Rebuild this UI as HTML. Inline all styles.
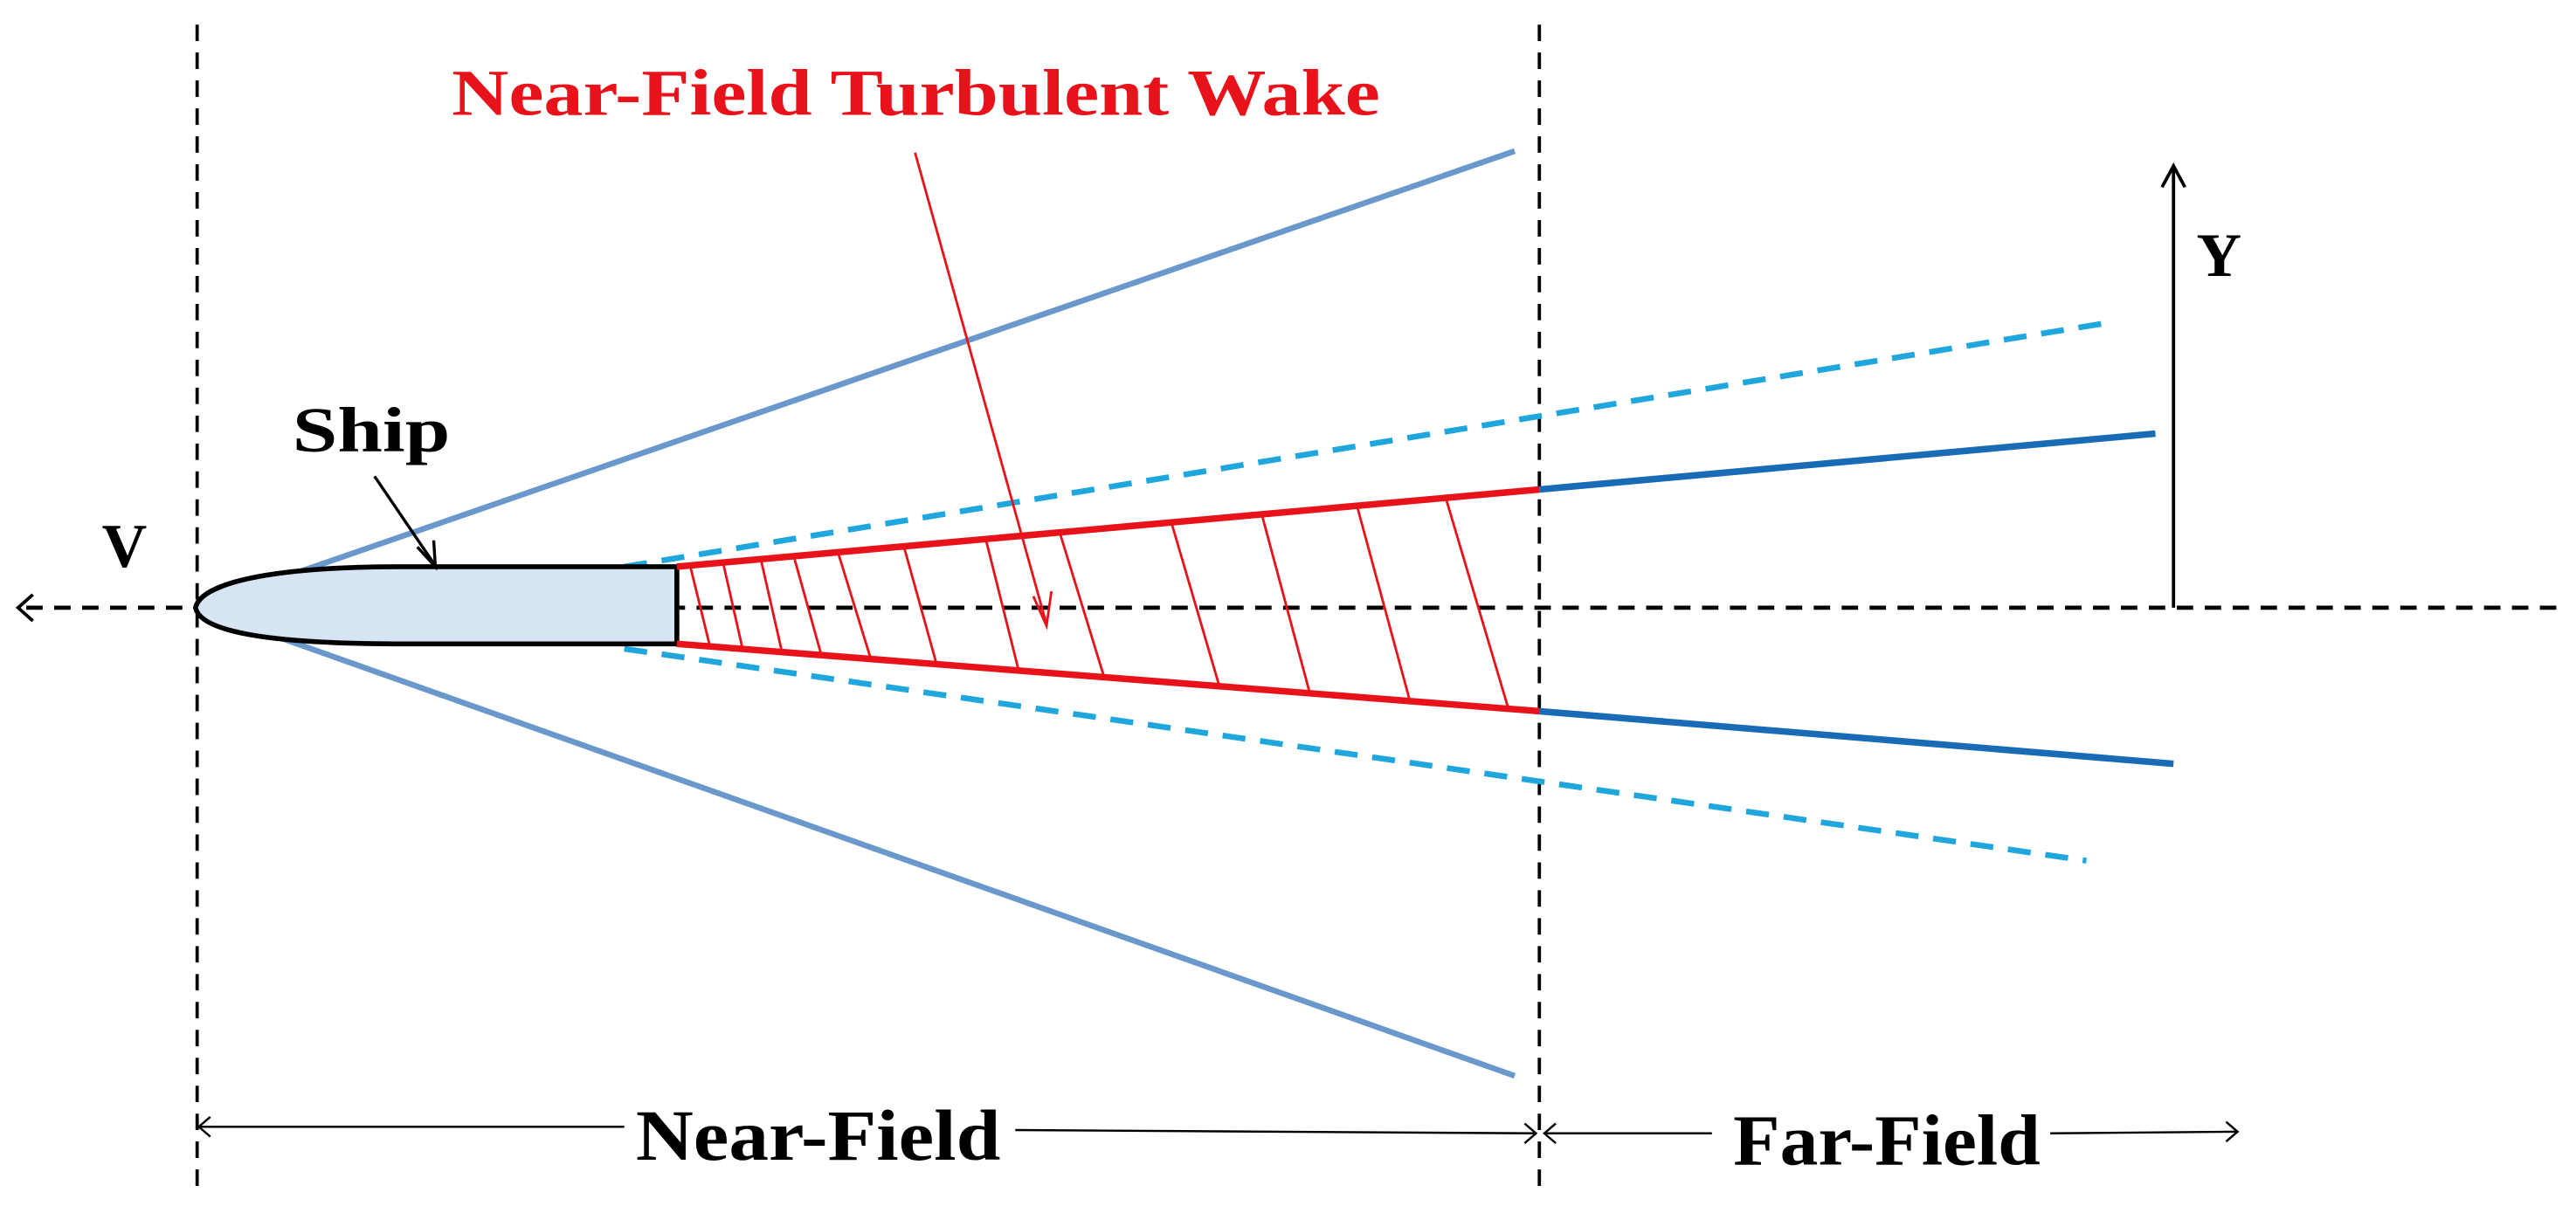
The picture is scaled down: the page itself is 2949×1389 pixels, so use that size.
<!DOCTYPE html>
<html><head><meta charset="utf-8"><style>html,body{margin:0;padding:0;background:#fff}svg{display:block}</style></head>
<body>
<svg width="2949" height="1389" viewBox="0 0 1568 738.5" preserveAspectRatio="none" xmlns="http://www.w3.org/2000/svg">
<rect width="1568" height="738.5" fill="#fff"/>
<g stroke="#000" stroke-width="2" stroke-dasharray="10,7" fill="none">
<line x1="120" y1="15" x2="120" y2="722"/>
<line x1="937" y1="15" x2="937" y2="722"/>
</g>
<line x1="16" y1="370" x2="1556" y2="370" stroke="#000" stroke-width="2.5" stroke-dasharray="10,7"/>
<polyline points="20,362 11,370 20,378" fill="none" stroke="#000" stroke-width="2"/>
<g stroke="#6a98cc" stroke-width="3.5">
<line x1="119" y1="370" x2="922" y2="92"/>
<line x1="119" y1="370" x2="922" y2="655"/>
</g>
<g stroke="#1fa7dd" stroke-width="3.5" stroke-dasharray="14,9">
<line x1="380" y1="345" x2="1280" y2="197"/>
<line x1="380" y1="395" x2="1270" y2="524"/>
</g>
<g stroke="#1a6bb5" stroke-width="4">
<line x1="937" y1="298" x2="1312" y2="264"/>
<line x1="937" y1="433" x2="1323" y2="465"/>
</g>
<path d="M412,345 L245,345 C160,345 122,356 119,370 C122,384 160,392 245,392 L412,392 Z" fill="#d7e4f3" stroke="#000" stroke-width="3"/>
<g stroke="#e8131a" stroke-width="1.5">
<line x1="420" y1="344" x2="432" y2="393"/>
<line x1="440" y1="342" x2="452" y2="395"/>
<line x1="463" y1="340" x2="476" y2="397"/>
<line x1="483" y1="338" x2="500" y2="399"/>
<line x1="510" y1="336" x2="530" y2="401"/>
<line x1="550" y1="332" x2="570" y2="404"/>
<line x1="600" y1="328" x2="620" y2="408"/>
<line x1="645" y1="324" x2="672" y2="412"/>
<line x1="713" y1="318" x2="742" y2="417"/>
<line x1="768" y1="313" x2="797" y2="421"/>
<line x1="826" y1="308" x2="858" y2="426"/>
<line x1="880" y1="303" x2="918" y2="431"/>
</g>
<g stroke="#e8131a" stroke-width="4">
<line x1="412" y1="345" x2="937" y2="298"/>
<line x1="412" y1="392" x2="937" y2="433"/>
</g>
<line x1="1323" y1="370" x2="1323" y2="103" stroke="#000" stroke-width="2"/>
<polyline points="1316,114 1323,101 1330,114" fill="none" stroke="#000" stroke-width="2"/>
<line x1="557" y1="93" x2="637" y2="380" stroke="#e8131a" stroke-width="1.5"/>
<polyline points="629,363 637,381 640,360" fill="none" stroke="#e8131a" stroke-width="1.5"/>
<line x1="228" y1="290" x2="264" y2="343" stroke="#000" stroke-width="1.8"/>
<polyline points="254,333 265,345 264,329" fill="none" stroke="#000" stroke-width="1.8"/>
<g stroke="#000" stroke-width="1.3" fill="none">
<line x1="121" y1="686" x2="380" y2="686"/>
<polyline points="128,680 121,686 128,692"/>
<line x1="618" y1="688" x2="935" y2="690"/>
<polyline points="928,684 935,690 928,696"/>
<line x1="940" y1="690" x2="1042" y2="690"/>
<polyline points="947,684 940,690 947,696"/>
<line x1="1248" y1="690" x2="1362" y2="689"/>
<polyline points="1355,683 1362,689 1355,695"/>
</g>
<g font-family="'Liberation Serif', serif" font-weight="bold">
<text x="275" y="70" font-size="40" fill="#e8131a" textLength="565" lengthAdjust="spacingAndGlyphs">Near-Field Turbulent Wake</text>
<text x="178" y="275" font-size="39" fill="#000" textLength="96" lengthAdjust="spacingAndGlyphs">Ship</text>
<text x="62" y="345" font-size="38" fill="#000">V</text>
<text x="1337" y="168" font-size="38" fill="#000">Y</text>
<text x="387" y="706" font-size="44" fill="#000" textLength="222" lengthAdjust="spacingAndGlyphs">Near-Field</text>
<text x="1055" y="709" font-size="44" fill="#000" textLength="187" lengthAdjust="spacingAndGlyphs">Far-Field</text>
</g>
</svg>
</body></html>
